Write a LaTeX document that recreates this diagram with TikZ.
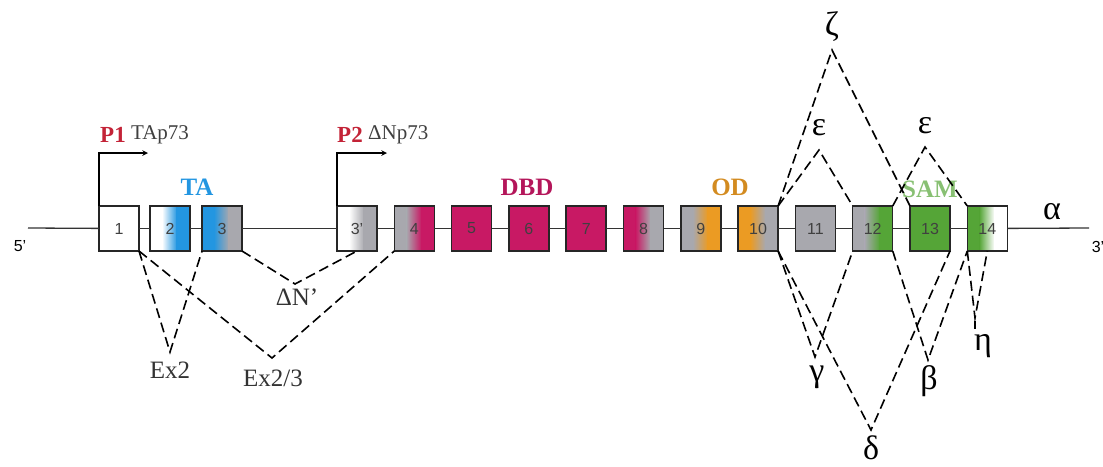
\documentclass[tikz,border=0pt]{standalone}
\usepackage{fontspec}
\setmainfont{Liberation Serif}
\setsansfont{Liberation Sans}
\usetikzlibrary{positioning,calc,arrows}

\definecolor{tablue}{RGB}{35,150,225}
\definecolor{dbdred}{RGB}{200,25,100}
\definecolor{odorange}{RGB}{235,155,35}
\definecolor{samgreen}{RGB}{85,165,55}
\definecolor{exgray}{RGB}{168,168,174}
\definecolor{promred}{RGB}{195,35,55}

\begin{document}
\begin{tikzpicture}[x=1pt,y=-1pt]
\useasboundingbox (0,0) rectangle (1103,466);

% definitions
\tikzstyle{exon} = [rectangle, minimum width=40pt, minimum height=45pt, inner sep=0pt, outer sep=0pt, draw=black!85, line width=1.5pt, font=\sffamily\fontsize{16}{16}\selectfont, text=black!75]

\tikzstyle{splice} = [dash pattern=on 10pt off 5pt, line width=1.6pt]

\tikzstyle{arrow} = [->,>=stealth, line width=1.5pt]

\tikzstyle{backbone} = [line width=1.3pt, black!80]

\tikzstyle{iso} = [font=\fontsize{34}{34}\selectfont]

\tikzstyle{skiplabel} = [font=\fontsize{25}{25}\selectfont, text=black!80]

\tikzstyle{prom} = [font=\bfseries\fontsize{23}{23}\selectfont, text=promred, inner sep=1pt]

\tikzstyle{promname} = [font=\fontsize{21}{21}\selectfont, text=black!75, inner sep=1pt]

\tikzstyle{domlabel} = [font=\bfseries\fontsize{25}{25}\selectfont]

\tikzset{twotone/.style 2 args={path picture={
  \fill[#1] (path picture bounding box.south west) rectangle ($(path picture bounding box.north west)!0.32!(path picture bounding box.north east)$);
  \shade[left color=#1, right color=#2] ($(path picture bounding box.south west)!0.3!(path picture bounding box.south east)$) rectangle ($(path picture bounding box.north west)!0.68!(path picture bounding box.north east)$);
  \fill[#2] ($(path picture bounding box.south west)!0.66!(path picture bounding box.south east)$) rectangle (path picture bounding box.north east);
}}}

% the exons
\node (b1) [exon, fill=white] at (119,228.5) {1};
\node (b2) [exon, twotone={white}{tablue}, right=11pt of b1] {2};
\node (b3) [exon, twotone={tablue}{exgray}, right=12pt of b2] {3};
\node (b3p) [exon, twotone={white}{exgray}, right=95pt of b3] {3’};
\node (b4) [exon, twotone={exgray}{dbdred}, right=17.3pt of b3p] {4};
\node (b5) [exon, fill=dbdred, right=17.3pt of b4] {5};
\node (b6) [exon, fill=dbdred, right=17.3pt of b5] {6};
\node (b7) [exon, fill=dbdred, right=17.3pt of b6] {7};
\node (b8) [exon, twotone={dbdred}{exgray}, right=17.3pt of b7] {8};
\node (b9) [exon, twotone={exgray}{odorange}, right=17.3pt of b8] {9};
\node (b10) [exon, twotone={odorange}{exgray}, right=17.3pt of b9] {10};
\node (b11) [exon, fill=exgray, right=17.3pt of b10] {11};
\node (b12) [exon, twotone={exgray}{samgreen}, right=17.3pt of b11] {12};
\node (b13) [exon, fill=samgreen, right=17.3pt of b12] {13};
\node (b14) [exon, twotone={samgreen}{white}, right=17.3pt of b13] {14};

% ends of the gene
\coordinate (e5) at (28,228);
\coordinate (e3) at (1089,228);
\node (l5) [font=\sffamily\fontsize{16}{16}\selectfont] at (20,246) {5’};
\node (l3) [font=\sffamily\fontsize{16}{16}\selectfont] at (1098,247) {3’};

\draw [backbone] (e5) -- (b1);
\draw [backbone] (b1) -- (b2);
\draw [backbone] (b2) -- (b3);
\draw [backbone] (b3) -- (b3p);
\draw [backbone] (b3p) -- (b4);
\draw [backbone] (b4) -- (b5);
\draw [backbone] (b5) -- (b6);
\draw [backbone] (b6) -- (b7);
\draw [backbone] (b7) -- (b8);
\draw [backbone] (b8) -- (b9);
\draw [backbone] (b9) -- (b10);
\draw [backbone] (b10) -- (b11);
\draw [backbone] (b11) -- (b12);
\draw [backbone] (b12) -- (b13);
\draw [backbone] (b13) -- (b14);
\draw [backbone] (b14) -- (e3);

% promoters
\node (p1) [prom] at (113,135) {P1};
\node (tap) [promname, right=3pt of p1] {TAp73};
\node (p2) [prom] at (350,135) {P2};
\node (dnp) [promname, right=3pt of p2] {ΔNp73};
\coordinate (p1tip) at (148,153);
\coordinate (p2tip) at (387,153);
\draw [arrow] (b1.north west) |- (p1tip);
\draw [arrow] (b3p.north west) |- (p2tip);

% domains
\node (ta) [domlabel, text=tablue] at (197,187) {TA};
\node (dbd) [domlabel, text=dbdred!90!black] at (527,187) {DBD};
\node (od) [domlabel, text=odorange!90!black] at (730,187) {OD};
\node (sam) [domlabel, text=samgreen!70!white] at (930,189) {SAM};

% N-terminal splicing
\coordinate (ex2) at (170,352);
\coordinate (ex23) at (272,358);
\coordinate (dn) at (295,284);
\node (lex2) [skiplabel] at (170,370) {Ex2};
\node (lex23) [skiplabel] at (273,378) {Ex2/3};
\node (ldn) [skiplabel] at (297,297) {ΔN’};
\draw [splice] (b1.south east) -- (ex2) -- (b3.south west);
\draw [splice] (b1.south east) -- (ex23) -- (b4.south west);
\draw [splice] (b3.south east) -- (dn) -- (b3p.south);

% C-terminal splicing
\coordinate (zeta) at (832,50);
\coordinate (eps1) at (819,150);
\coordinate (eps2) at (925,147);
\coordinate (gam) at (815,357);
\coordinate (del) at (871,430);
\coordinate (bet) at (928,360);
\coordinate (eta) at (975,318);
\coordinate (etatop) at (975,321);
\coordinate (etaend) at (975,329);
\node (lzeta) [iso] at (832,27) {ζ};
\node (leps1) [iso] at (819,128) {ε};
\node (leps2) [iso] at (925,126) {ε};
\node (lgam) [iso] at (817,377) {γ};
\node (ldel) [iso] at (871,448) {δ};
\node (lbet) [iso] at (929,381) {β};
\node (leta) [iso] at (983,346) {η};
\node (lalp) [iso] at (1052,212) {α};

\draw [splice] (b10.north east) -- (zeta) -- (b13.north west);
\draw [splice] (b10.north east) -- (eps1) -- (b12.north west);
\draw [splice] (b12.north east) -- (eps2) -- (b14.north west);
\draw [splice] (b10.south east) -- (gam) -- (b12.south west);
\draw [splice] (b10.south east) -- (del) -- (b13.south east);
\draw [splice] (b12.south east) -- (bet) -- (b14.south west);
\draw [splice] (b14.south west) -- (eta) -- (b14.south);
\draw [line width=1.6pt] (etatop) -- (etaend);

\end{tikzpicture}
\end{document}
